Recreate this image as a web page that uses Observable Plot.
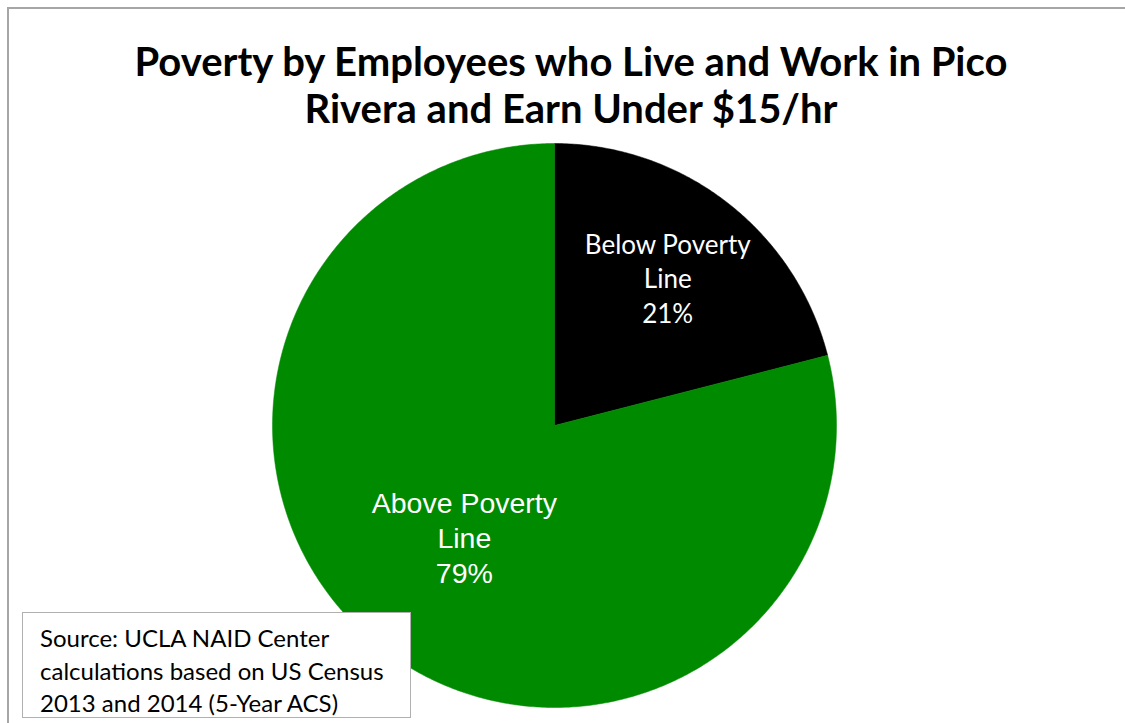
<!DOCTYPE html>
<html>
<head>
<meta charset="utf-8">
<script src="https://cdn.jsdelivr.net/npm/d3@7"></script>
<script src="https://cdn.jsdelivr.net/npm/@observablehq/plot@0.6"></script>
<style>
  html, body { margin: 0; padding: 0; background: #fff; overflow: hidden; }
  #wrap { position: relative; width: 1125px; height: 723px; overflow: hidden; }
  #frame { position: absolute; left: 7px; top: 7px; right: 0; bottom: 0; border-top: 2px solid #a6a6a6; border-left: 2px solid #a6a6a6; }
  #title { position: absolute; left: 0; top: 38px; width: 1142px; text-align: center;
           font-family: Lato, "Open Sans", sans-serif; font-weight: 700; font-size: 40px; line-height: 47px; color: #000; }
  #chart { position: absolute; left: 0; top: 0; }
  #source { position: absolute; left: 22px; top: 612px; width: 389px; height: 106px; box-sizing: border-box;
            background: #fff; border: 1.5px solid #b0b0b0; padding: 9px 0 0 17px; white-space: nowrap;
            font-family: Lato, "Open Sans", sans-serif; font-size: 24px; line-height: 32.5px; color: #000; }
</style>
</head>
<body>
<div id="wrap">
  <div id="frame"></div>
  <div id="chart"></div>
  <div id="title"></div>
  <div id="source"></div>
</div>
<script>
const titleLines = ["Poverty by Employees who Live and Work in Pico", "Rivera and Earn Under $15/hr"];
const categories = ["Below Poverty Line", "Above Poverty Line"];
const values = [21, 79];
const colors = ["#000000", "#008a00"];
const sourceLines = ["Source: UCLA NAID Center", "calculations based on US Census", "2013 and 2014 (5-Year ACS)"];

document.getElementById("title").innerHTML = titleLines.join("<br>");
document.getElementById("source").innerHTML = sourceLines.join("<br>");

// angles from the data
const pie = d3.pie().sort(null).value(d => d.value).startAngle(0).endAngle(2 * Math.PI);
const slices = pie(categories.map((c, i) => ({category: c, value: values[i], color: colors[i]})));

// polygon points of each slice, in unit-circle coordinates (angle 0 at top, clockwise)
const polyPts = [];
for (const s of slices) {
  polyPts.push({category: s.data.category, x: 0, y: 0});
  const n = Math.max(8, Math.ceil((s.endAngle - s.startAngle) / (Math.PI / 360)));
  for (let k = 0; k <= n; k++) {
    const a = s.startAngle + (s.endAngle - s.startAngle) * k / n;
    polyPts.push({category: s.data.category, x: Math.sin(a), y: Math.cos(a)});
  }
  polyPts.push({category: s.data.category, x: 0, y: 0});
}

const labelRadius = [0.655, 0.51];
const labels = slices.map((s, i) => {
  const a = (s.startAngle + s.endAngle) / 2;
  return {
    text: s.data.category.replace(" Line", "\nLine") + "\n" + s.data.value + "%",
    x: labelRadius[i] * Math.sin(a),
    y: labelRadius[i] * Math.cos(a),
    i
  };
});

const cx = 554, cy = 425, R = 282;
const plot = Plot.plot({
  width: 1125,
  height: 723,
  margin: 0,
  x: {domain: [-1, 1], range: [cx - R, cx + R], axis: null},
  y: {domain: [-1, 1], range: [cy + R, cy - R], axis: null},
  color: {domain: categories, range: colors},
  style: {background: "transparent"},
  marks: [
    Plot.line(polyPts, {x: "x", y: "y", z: "category", fill: "category", stroke: "category", strokeWidth: 0.5, curve: "linear"}),
    Plot.text(labels.filter(d => d.i === 0), {x: "x", y: "y", text: "text", fill: "white", fontSize: 26, dy: -2,
      lineHeight: 1.31, fontFamily: "Lato, 'Open Sans', sans-serif"}),
    Plot.text(labels.filter(d => d.i === 1), {x: "x", y: "y", text: "text", fill: "white", fontSize: 28.5, dy: -2, dx: -2,
      lineHeight: 1.23, fontFamily: "'Liberation Sans', Arial, sans-serif"})
  ]
});
document.getElementById("chart").appendChild(plot);
</script>
</body>
</html>
